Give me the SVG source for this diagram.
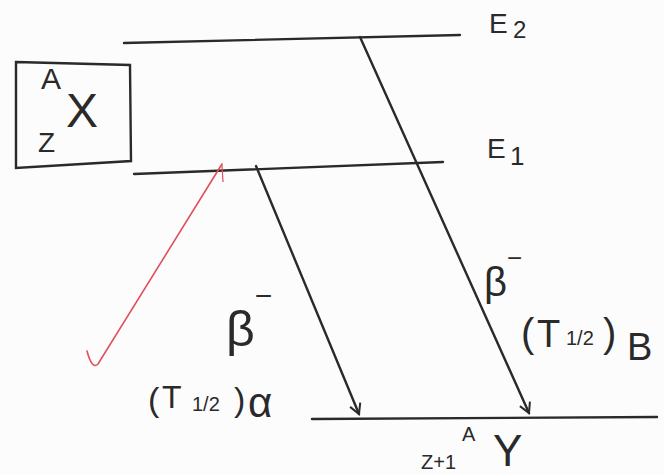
<svg xmlns="http://www.w3.org/2000/svg" width="664" height="475" viewBox="0 0 664 475">
<style>
.ln{stroke:#2a2a2a;stroke-width:2.4;fill:none;stroke-linecap:round}
.t{font-family:"Liberation Sans",Arial,sans-serif;fill:#2a2a2a}
</style>
<defs>
<marker id="ah" markerWidth="14" markerHeight="14" refX="11" refY="7" orient="auto" markerUnits="userSpaceOnUse">
<path d="M1,1.5 L11,7 L1,12.5" fill="none" stroke="#2a2a2a" stroke-width="2"/>
</marker>
</defs>
<rect width="664" height="475" fill="#fdfcfd"/>
<g id="parent-X">
<path class="ln" d="M16,62 L130,65 L131,161 L16,168 Z"/>
<text class="t" x="41" y="89" font-size="30">A</text>
<text class="t" x="66" y="127" font-size="48">X</text>
<text class="t" x="38" y="152" font-size="28">Z</text>
</g>
<g id="level-E2">
<path class="ln" d="M124,43 L460,35"/>
<text class="t" x="489" y="33" font-size="28">E</text>
<text class="t" x="513" y="38" font-size="24">2</text>
</g>
<g id="level-E1">
<path class="ln" d="M134,174 L443,162"/>
<text class="t" x="487" y="158" font-size="28">E</text>
<text class="t" x="510" y="165" font-size="26">1</text>
</g>
<g id="daughter-Y">
<path class="ln" d="M312,419 L657,417"/>
<text class="t" x="462" y="441" font-size="20">A</text>
<text class="t" x="493" y="466" font-size="44">Y</text>
<text class="t" x="421" y="469" font-size="20">Z+1</text>
</g>
<g id="connectors">
<path class="ln" d="M256,166 L359,414" marker-end="url(#ah)"/>
<path class="ln" d="M360,37 L529,413" marker-end="url(#ah)"/>
<path d="M222,164 L98,364 Q92,370 87,351" fill="none" stroke="#e0505a" stroke-width="1.6" stroke-linecap="round"/>
<path d="M222,165 L223,182" fill="none" stroke="#e0505a" stroke-width="1.2"/>
</g>
<g id="labels">
<text class="t" x="226" y="346" font-size="50">β<tspan font-size="30" dy="-40">−</tspan></text>
<text class="t" x="148" y="411" font-size="34">(</text>
<text class="t" x="162" y="408" font-size="32">T</text>
<text class="t" x="192" y="411" font-size="20">1/2</text>
<text class="t" x="234" y="411" font-size="34">)</text>
<text class="t" x="248" y="417" font-size="42">α</text>
<text class="t" x="484" y="296" font-size="40">β<tspan font-size="26" dy="-29">−</tspan></text>
<text class="t" x="521" y="347" font-size="40">(</text>
<text class="t" x="537" y="347" font-size="38">T</text>
<text class="t" x="566" y="345" font-size="20">1/2</text>
<text class="t" x="603" y="347" font-size="40">)</text>
<text class="t" x="627" y="360" font-size="38">B</text>
</g>
</svg>
